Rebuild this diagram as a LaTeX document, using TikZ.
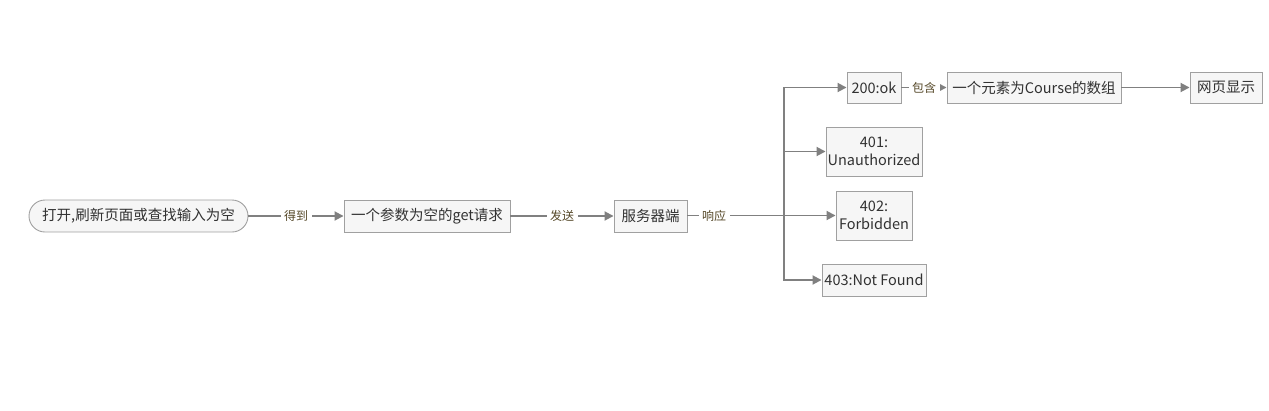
\documentclass[tikz,border=0pt]{standalone}
\usepackage{fontspec}
\setmainfont{Noto Sans CJK SC}
\usetikzlibrary{arrows.meta}
\definecolor{linec}{RGB}{128,128,128}
\definecolor{boxfill}{RGB}{246,246,246}
\definecolor{boxdraw}{RGB}{160,160,160}
\definecolor{txtc}{RGB}{50,50,50}
\definecolor{labc}{RGB}{85,72,40}
\tikzset{
  box/.style={draw=boxdraw, fill=boxfill, line width=0.9pt, text=txtc, inner sep=0pt,
    font=\fontsize{14.5}{18}\selectfont, align=center, minimum height=32pt},
  conn/.style={draw=linec, line width=1.8pt, -{Triangle[length=9pt,width=9pt]}},
  lab/.style={fill=white, text=labc, inner sep=3.5pt, font=\fontsize{12}{14}\selectfont}
}
\begin{document}
\begin{tikzpicture}[x=1pt,y=-1pt]
\useasboundingbox (0,0) rectangle (1269,410);
\node[box, rounded corners=16pt, minimum width=219pt] (start) at (138.5,216) {打开,刷新页面或查找输入为空};
\node[box, minimum width=166pt] (get) at (427,216) {一个参数为空的get请求};
\node[box, minimum width=73pt] (srv) at (650.5,216) {服务器端};
\node[box, minimum width=54pt, minimum height=31pt] (c200) at (874,87.5) {200:ok};
\node[box, minimum width=174pt, minimum height=31pt] (arr) at (1034,87.5) {一个元素为Course的数组};
\node[box, minimum width=72pt, minimum height=31pt] (web) at (1226,87.5) {网页显示};
\node[box, minimum width=96pt, minimum height=49pt] (c401) at (874,151.5) {401:\\Unauthorized};
\node[box, minimum width=76pt, minimum height=49pt] (c402) at (874,215.5) {402:\\Forbidden};
\node[box, minimum width=104pt] (c403) at (874,280) {403:Not Found};
\coordinate (tk) at (784,215.5);
\draw[conn] (start.east) -- node[lab]{得到} (get.west);
\draw[conn] (get.east) -- node[lab]{发送} (srv.west);
\draw[conn] (srv.east |- c402.west) -- node[lab, pos=0.18]{响应} (c402.west);
\draw[conn] (tk) |- (c200.west);
\draw[conn] (tk) |- (c401.west);
\draw[conn] (tk) |- (c403.west);
\draw[conn] (c200.east) -- node[lab]{包含} (arr.west);
\draw[conn] (arr.east) -- (web.west);
\end{tikzpicture}
\end{document}
